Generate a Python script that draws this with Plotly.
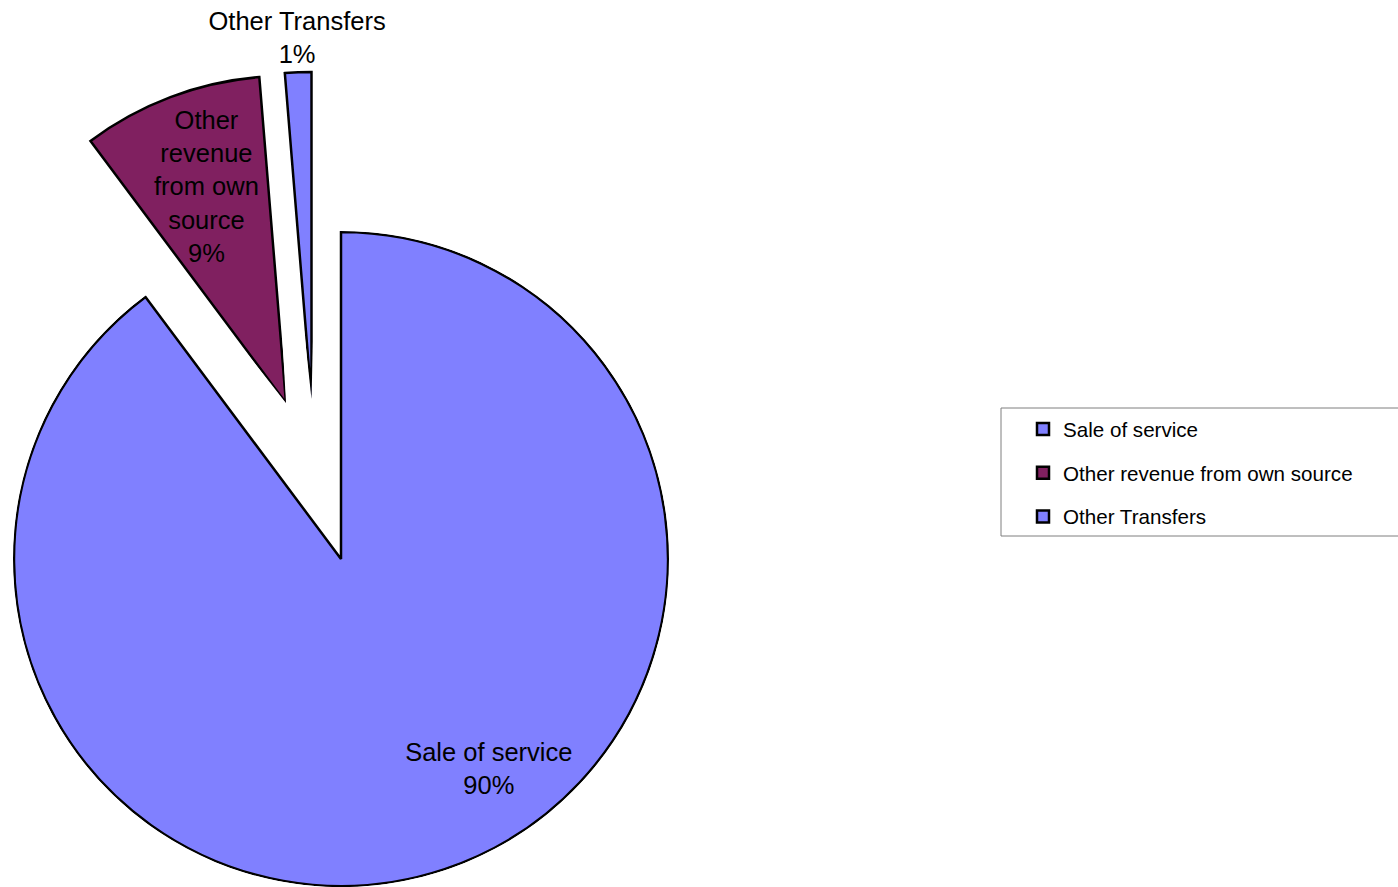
import math
import plotly.graph_objects as go

W, H = 1398, 887

# ---- data ----
categories = ["Sale of service", "Other revenue from own source", "Other Transfers"]
slice_text = ["Sale of service", "Other<br>revenue<br>from own<br>source", "Other Transfers"]
shares = [89.8, 8.9, 1.3]
colors = ["#8080FF", "#802060", "#8080FF"]

# ---- layout (pixel geometry of the exploded pie) ----
RADIUS = 327                                         # slice radius in px
apex = [(341, 559), (286, 403), (311.5, 399)]      # where each slice's tip sits
radial_max = [328 / 327, 1.01, 1.15]                 # radial range of each subplot (slice r = 1)
label_r = [0.79, 0.698, 1.098]                       # label radius (fraction of slice radius)
label_theta = [145.1, 339.6, 357.7]                  # label angle, clockwise from 12 o'clock
FONT = "Liberation Sans, Arial, sans-serif"
OUTLINE = 2.5


def sector_bbox(sector):
    s0, s1 = sector
    arc = s1 - s0
    a0 = s0 % 360
    a1 = a0 + arc
    ax0, ay0 = math.cos(math.radians(a0)), math.sin(math.radians(a0))
    ax1, ay1 = math.cos(math.radians(a1)), math.sin(math.radians(a1))
    if (a0 <= 90 and a1 >= 90) or (a0 > 90 and a1 >= 450):
        y1 = 1
    elif ay0 <= 0 and ay1 <= 0:
        y1 = 0
    else:
        y1 = max(ay0, ay1)
    if (a0 <= 180 and a1 >= 180) or (a0 > 180 and a1 >= 540):
        x0 = -1
    elif ax0 >= 0 and ax1 >= 0:
        x0 = 0
    else:
        x0 = min(ax0, ax1)
    if (a0 <= 270 and a1 >= 270) or (a0 > 270 and a1 >= 630):
        y0 = -1
    elif ay0 >= 0 and ay1 >= 0:
        y0 = 0
    else:
        y0 = min(ay0, ay1)
    if a1 >= 360:
        x1 = 1
    elif ax0 <= 0 and ax1 <= 0:
        x1 = 0
    else:
        x1 = max(ax0, ax1)
    return x0, y0, x1, y1


def clamp(v):
    return min(1.0, max(0.0, v))


total = sum(shares)
fig = go.Figure()
polar_layouts = {}
start = 0.0
for i, (cat, val, col) in enumerate(zip(categories, shares, colors)):
    width = val / total * 360.0
    end = start + width
    mid = start + width / 2
    name = "polar" if i == 0 else f"polar{i + 1}"
    sector = [0, 360] if i == 0 else [90 - end - 1.5, 90 - start + 1.5]
    bx0, by0, bx1, by1 = sector_bbox(sector)
    cx, cy = apex[i]
    rpx = RADIUS * radial_max[i]
    xoff = cx + rpx * bx0
    xlen = rpx * (bx1 - bx0)
    yoff = cy - rpx * by1
    ylen = rpx * (by1 - by0)
    polar_layouts[name] = dict(
        domain=dict(x=[clamp(xoff / W), clamp((xoff + xlen) / W)],
                    y=[clamp(1 - (yoff + ylen) / H), clamp(1 - yoff / H)]),
        sector=sector,
        bgcolor="rgba(0,0,0,0)",
        hole=0,
        radialaxis=dict(visible=False, range=[0, radial_max[i]]),
        angularaxis=dict(visible=False, rotation=90, direction="clockwise"),
    )
    fig.add_trace(go.Barpolar(
        r=[1], theta=[mid], width=[width], base=0,
        name=cat, legendgroup=f"g{i}", subplot=name,
        marker=dict(color=col, line=dict(color="black", width=OUTLINE)),
        hovertemplate=f"{cat}: {val}%<extra></extra>",
    ))
    fig.add_trace(go.Scatterpolar(
        r=[label_r[i]], theta=[label_theta[i]], mode="text",
        text=[f"{slice_text[i]}<br>{round(val)}%"],
        textposition="middle center",
        textfont=dict(family=FONT, size=25.5, color="black"),
        cliponaxis=False, showlegend=False, hoverinfo="skip", subplot=name,
    ))
    start = end

# legend frame (extends past the right edge, as in the original)
LEG_LEFT, LEG_TOP, LEG_BOTTOM = 1001, 408, 536
fig.add_shape(type="rect", xref="paper", yref="paper",
              x0=LEG_LEFT / W, x1=1.02, y0=1 - LEG_BOTTOM / H, y1=1 - LEG_TOP / H,
              line=dict(color="#7f7f7f", width=1), fillcolor="rgba(0,0,0,0)", layer="above")

fig.update_layout(
    width=W, height=H,
    margin=dict(l=0, r=0, t=0, b=0, autoexpand=False),
    paper_bgcolor="white",
    plot_bgcolor="white",
    showlegend=True,
    legend=dict(
        x=1023 / W, xanchor="left", y=1 - 409 / H, yanchor="top",
        borderwidth=0, bgcolor="rgba(0,0,0,0)",
        font=dict(family=FONT, size=20.6, color="black"),
        itemwidth=30, tracegroupgap=14,
    ),
    **polar_layouts,
)

fig.write_html("out.html")
